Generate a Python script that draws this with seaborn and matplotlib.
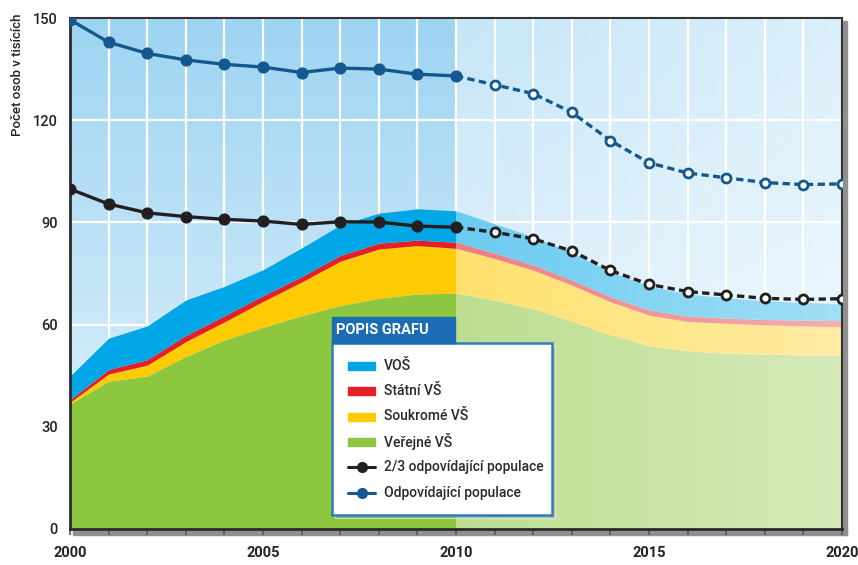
import numpy as np
import seaborn as sns
import matplotlib.pyplot as plt
from matplotlib.colors import to_rgb
from matplotlib.patches import Rectangle
from matplotlib.lines import Line2D

years = np.arange(2000, 2021)

# stacked layers (thousands of persons)
verejne_vs = [36.7, 43.4, 44.9, 50.6, 55.5, 59.2, 62.6, 65.6, 67.7, 69.0, 69.2,
              67.2, 64.6, 61.0, 57.0, 53.8, 52.3, 51.6, 51.3, 51.1, 51.0]
soukrome_vs = [0.5, 2.1, 3.2, 4.4, 5.3, 7.6, 9.9, 13.0, 14.5, 14.2, 13.2,
               12.2, 11.4, 10.6, 9.7, 9.0, 8.6, 8.8, 8.6, 8.5, 8.4]
statni_vs = [0.8, 1.3, 1.6, 1.8, 1.8, 1.7, 1.6, 1.7, 1.7, 1.6, 1.8,
             1.6, 1.5, 1.5, 1.5, 1.5, 1.6, 1.5, 1.6, 1.7, 1.8]
vos = [6.9, 9.2, 9.9, 10.4, 8.6, 7.6, 8.4, 8.9, 8.8, 9.2, 9.2,
       8.6, 8.3, 8.1, 7.3, 7.0, 6.5, 6.0, 5.5, 5.2, 4.9]

# population lines
odpovidajici = [149.5, 142.9, 139.6, 137.7, 136.4, 135.6, 134.0, 135.3, 135.0, 133.5, 133.0,
                130.4, 127.8, 122.3, 114.0, 107.5, 104.5, 103.1, 101.7, 101.1, 101.3]
dve_tretiny = [99.8, 95.4, 92.8, 91.7, 90.9, 90.4, 89.4, 90.2, 90.1, 88.9, 88.6,
               87.1, 85.2, 81.6, 75.9, 71.8, 69.7, 68.7, 67.7, 67.4, 67.6]

labels = ["VOŠ", "Státní VŠ", "Soukromé VŠ", "Veřejné VŠ",
          "2/3 odpovídající populace", "Odpovídající populace"]
split = 10  # index of 2010, start of the forecast

c_green, c_yellow, c_red, c_blue = "#8dc63f", "#ffcb05", "#e32028", "#00a6e6"
c_line_blue, c_line_black = "#15588f", "#231f20"

sns.set_theme(style="white")
plt.rcParams['font.family'] = ['Liberation Sans Narrow', 'Roboto', 'DejaVu Sans']

W, H = 858, 565
fig = plt.figure(figsize=(W / 100, H / 100), dpi=100)
ax = fig.add_axes([70 / W, 1 - 529 / H, 772 / W, 511 / H])

def fx(px):
    return px / W

def fy(py):
    return 1 - py / H

# background gradient
t = np.linspace(0, 1, 256)[:, None, None]
bg = np.array(to_rgb("#9dd4f2")) * (1 - t) + np.array(to_rgb("#e8f5fc")) * t
ax.imshow(bg, extent=[2000, 2020, 0, 150], aspect="auto", zorder=0)

ax.stackplot(years, verejne_vs, soukrome_vs, statni_vs, vos,
             colors=[c_green, c_yellow, c_red, c_blue], linewidth=0, zorder=1)

# forecast part is faded
fade = np.ones((1, 256, 4))
fade[..., 3] = np.linspace(0.42, 0.64, 256)
ax.imshow(fade, extent=[2010, 2020, 0, 150], aspect="auto", zorder=2)

for vals, col in [(odpovidajici, c_line_blue), (dve_tretiny, c_line_black)]:
    vals = np.array(vals)
    sns.lineplot(x=years[split:], y=vals[split:], color=col, linewidth=2.4,
                 linestyle=(0, (2.2, 1.3)), marker="o", markevery=list(range(1, 11)),
                 markersize=6.5, markerfacecolor="white", markeredgecolor=col,
                 markeredgewidth=2, ax=ax, zorder=4)
    sns.lineplot(x=years[:split + 1], y=vals[:split + 1], color=col, linewidth=2.4,
                 marker="o", markersize=8, markerfacecolor=col, markeredgecolor=col,
                 ax=ax, zorder=5)

ax.set_xlim(2000, 2020)
ax.set_ylim(0, 150)
ax.set_xticks(years)
ax.set_xticklabels([str(y) if y % 5 == 0 else "" for y in years])
ax.set_yticks(range(0, 151, 30))
ax.set_axisbelow(True)
ax.grid(True, color="white", linewidth=1.6)
ax.set_xlabel("")
ax.set_ylabel("")
ax.tick_params(axis="x", direction="out", length=4.5, width=1.2, color="#555555",
               pad=8, labelsize=10.5, labelcolor="#222222", bottom=True)
ax.tick_params(axis="y", length=0, pad=9, labelsize=10.5, labelcolor="#222222")
plt.setp(ax.get_xticklabels(), fontweight="bold")
plt.setp(ax.get_yticklabels(), fontweight="medium")
for side in ["left", "bottom"]:
    ax.spines[side].set_color("#2b2b2b")
    ax.spines[side].set_linewidth(2)
for side in ["top", "right"]:
    ax.spines[side].set_color("#333333")
    ax.spines[side].set_linewidth(1.5)

# shadows at right and bottom of the frame
fig.add_artist(Rectangle((fx(843), fy(535)), 4 / W, 514 / H, color="#909090",
                         transform=fig.transFigure, zorder=0))
fig.add_artist(Rectangle((fx(73), fy(535)), 774 / W, 5 / H, color="#909090",
                         transform=fig.transFigure, zorder=0))

fig.text(fx(18), fy(14), "Počet osob v tisících", rotation=90, va="top", ha="center",
         fontsize=9.5, fontweight="medium", color="#222222")

# legend box
fig.add_artist(Rectangle((fx(335), fy(518)), 220 / W, 172 / H, facecolor="#9a9a9a",
                         alpha=0.5, transform=fig.transFigure, zorder=5))
fig.add_artist(Rectangle((fx(332), fy(515)), 220 / W, 172 / H, facecolor="white",
                         edgecolor="#2a7dc2", linewidth=1.8, transform=fig.transFigure, zorder=6))
fig.add_artist(Rectangle((fx(332), fy(343)), 123 / W, 26 / H, color="#1b6cb2",
                         transform=fig.transFigure, zorder=6))
fig.text(fx(336), fy(330), "POPIS GRAFU", color="white", fontsize=10.5, fontweight="bold",
         va="center", ha="left", zorder=7)

rows = [366, 391, 416.5, 441.5, 467, 492.5]
patch_cols = [c_blue, c_red, c_yellow, c_green]
for i, (lab, ry) in enumerate(zip(labels, rows)):
    if i < 4:
        fig.add_artist(Rectangle((fx(348), fy(ry + 4)), 27 / W, 8 / H, color=patch_cols[i],
                                 transform=fig.transFigure, zorder=7))
    else:
        col = c_line_black if i == 4 else c_line_blue
        fig.add_artist(Line2D([fx(348), fx(375)], [fy(ry), fy(ry)], color=col, linewidth=2.2,
                              transform=fig.transFigure, zorder=7))
        fig.add_artist(Line2D([fx(361.5)], [fy(ry)], color=col, marker="o", markersize=7,
                              transform=fig.transFigure, zorder=7))
    fig.text(fx(384), fy(ry), lab, fontsize=10, fontweight="medium", color="#2a2a2a",
             va="center", ha="left", zorder=7)

fig.savefig("out.png", dpi=100)
